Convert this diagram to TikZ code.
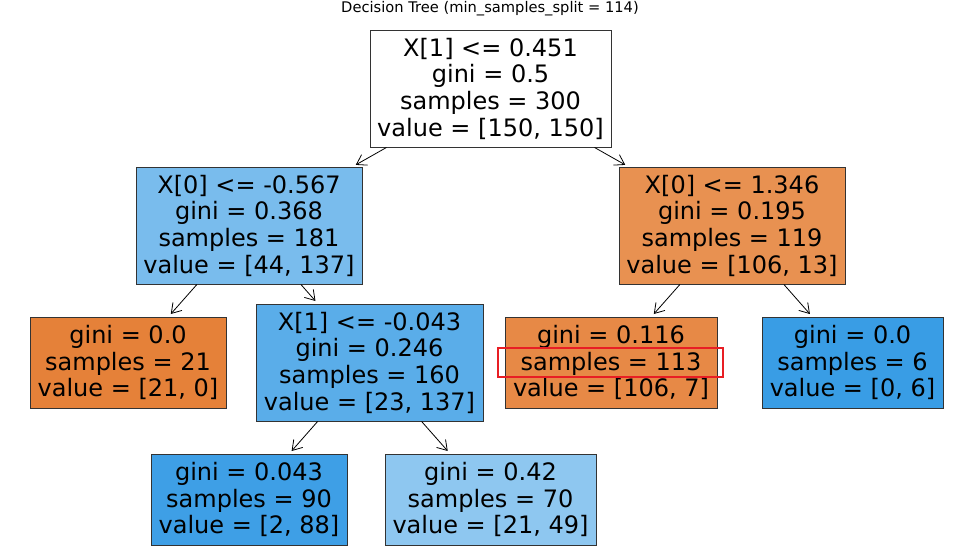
\documentclass[tikz,border=0pt]{standalone}
\usepackage{fontspec}
\setmainfont{DejaVu Sans}
\usetikzlibrary{arrows.meta}

\definecolor{leafO}{RGB}{229,129,57}
\definecolor{leafB}{RGB}{57,157,229}
\definecolor{nodeA}{RGB}{121,188,237}
\definecolor{nodeB}{RGB}{232,145,81}
\definecolor{nodeC}{RGB}{90,173,233}
\definecolor{nodeD}{RGB}{231,137,70}
\definecolor{nodeE}{RGB}{62,159,230}
\definecolor{nodeF}{RGB}{142,199,240}
\definecolor{hlred}{RGB}{232,30,36}

\begin{document}
\begin{tikzpicture}[x=0.75pt, y=-0.75pt,
  every node/.style={draw=black!80, line width=0.75pt, align=center, inner sep=0pt,
    font=\fontsize{18}{20}\selectfont},
  tall/.style={minimum height=87.75pt},
  short/.style={minimum height=68.25pt},
  edge/.style={-{Straight Barb[length=7pt, width=9pt]}, line width=0.6pt, shorten >=2.5pt}]
  \useasboundingbox (0,0) rectangle (959,551);

  \node[draw=none, font=\fontsize{11}{13}\selectfont] (title) at (490,8.5) {Decision Tree (min\_samples\_split = 114)};

  \node[tall, fill=white, minimum width=180.75pt] (r) at (490.5,88.5) {X[1] <= 0.451\\gini = 0.5\\samples = 300\\value = [150, 150]};

  \node[tall, fill=nodeA, minimum width=169.5pt] (l) at (249,225.5) {X[0] <= -0.567\\gini = 0.368\\samples = 181\\value = [44, 137]};
  \node[tall, fill=nodeB, minimum width=169.5pt] (rt) at (732,225.5) {X[0] <= 1.346\\gini = 0.195\\samples = 119\\value = [106, 13]};

  \node[short, fill=leafO, minimum width=147pt] (ll) at (128,362.5) {gini = 0.0\\samples = 21\\value = [21, 0]};
  \node[tall, fill=nodeC, minimum width=170.25pt] (lr) at (369.5,362.5) {X[1] <= -0.043\\gini = 0.246\\samples = 160\\value = [23, 137]};
  \node[short, fill=nodeD, minimum width=159pt] (rl) at (611,362.5) {gini = 0.116\\samples = 113\\value = [106, 7]};
  \node[short, fill=leafB, minimum width=135.75pt] (rr) at (852.5,362.5) {gini = 0.0\\samples = 6\\value = [0, 6]};

  \node[short, fill=nodeE, minimum width=147pt] (lrl) at (249,499.5) {gini = 0.043\\samples = 90\\value = [2, 88]};
  \node[short, fill=nodeF, minimum width=158.25pt] (lrr) at (490.5,499.5) {gini = 0.42\\samples = 70\\value = [21, 49]};

  \node[draw=hlred, line width=2.1pt, fill=none, minimum width=168.75pt, minimum height=21.75pt] (hl) at (610.5,362.5) {};

  \draw[edge] (r) -- (l); \draw[edge] (r) -- (rt);
  \draw[edge] (l) -- (ll); \draw[edge] (l) -- (lr);
  \draw[edge] (rt) -- (rl); \draw[edge] (rt) -- (rr);
  \draw[edge] (lr) -- (lrl); \draw[edge] (lr) -- (lrr);
\end{tikzpicture}
\end{document}
